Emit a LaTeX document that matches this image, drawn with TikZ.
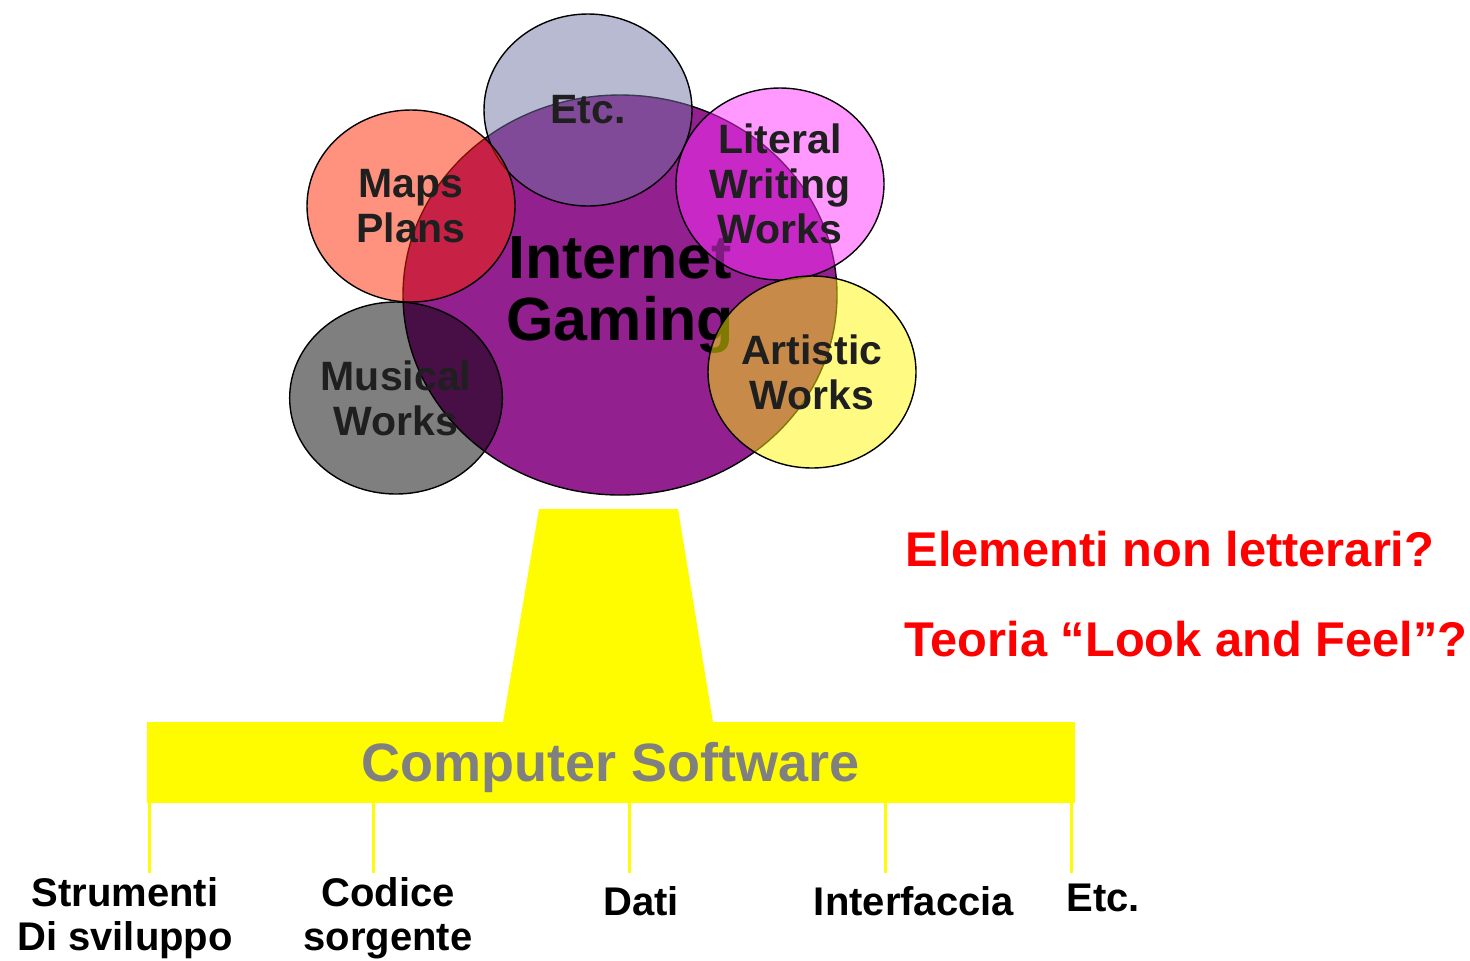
\documentclass[tikz,border=0pt]{standalone}
\usepackage{fontspec}
\setmainfont{Liberation Sans}
\usetikzlibrary{shapes.geometric}
\definecolor{gamepurple}{RGB}{146,32,142}
\definecolor{etcblue}{RGB}{113,117,165}
\definecolor{mapred}{RGB}{253,37,0}
\definecolor{litpink}{RGB}{255,51,255}
\definecolor{artyellow}{RGB}{255,245,5}
\definecolor{boxyellow}{RGB}{255,252,0}
\definecolor{swgray}{RGB}{128,128,128}
\begin{document}
\begin{tikzpicture}[x=0.5pt, y=-0.5pt,
  blob/.style={shape=ellipse, draw=black, line width=0.7pt, minimum width=104pt, minimum height=96pt,
    inner sep=0pt, fill opacity=0.5, text opacity=1, align=center, text=black!88,
    font=\bfseries\fontsize{20.5}{22.5}\selectfont},
  part/.style={align=center, font=\bfseries\fontsize{20}{22}\selectfont},
  leg/.style={draw=boxyellow, line width=1.5pt},
  query/.style={text=red, font=\bfseries\fontsize{24.4}{26}\selectfont}]
\useasboundingbox (0,0) rectangle (1470,960);
% the big circle and what overlaps it
\node[shape=ellipse, draw=black, line width=0.7pt, fill=gamepurple, minimum width=217pt, minimum height=200pt, inner sep=0pt, align=center, font=\bfseries\fontsize{30.5}{31}\selectfont] (game) at (620,295) {Internet\\Gaming};
\node[blob, fill=etcblue] (etc) at (588,110) {Etc.};
\node[blob, fill=mapred] (maps) at (411,206) {Maps\\Plans};
\node[blob, fill=litpink] (lit) at (780,184) {Literal\\Writing\\Works};
\node[blob, fill=black] (mus) at (396,398) {Musical\\Works};
\node[blob, fill=artyellow] (art) at (812,372) {Artistic\\Works};
% software block
\fill[boxyellow] (539,509) -- (678,509) -- (713,722) -- (503,722) -- cycle;
\node[shape=rectangle, fill=boxyellow, minimum width=464pt, minimum height=40.5pt, inner sep=0pt] (box) at (611,762.5) {};
\node[text=swgray, font=\bfseries\fontsize{27}{29}\selectfont] (sw) at (611,768) {Computer Software};
\coordinate (b1) at (149,873);
\coordinate (b2) at (373,873);
\coordinate (b3) at (629,873);
\coordinate (b4) at (885,873);
\coordinate (b5) at (1071,873);
\path[leg] (box.south -| b1) edge (b1);
\path[leg] (box.south -| b2) edge (b2);
\path[leg] (box.south -| b3) edge (b3);
\path[leg] (box.south -| b4) edge (b4);
\path[leg] (box.south -| b5) edge (b5);
\node[part] (tools) at (125,918) {Strumenti\\Di sviluppo};
\node[part] (code) at (388,918) {Codice\\sorgente};
\node[part] (data) at (641,901) {Dati};
\node[part] (ui) at (914,901) {Interfaccia};
\node[part] (more) at (1103,898) {Etc.};
% questions
\node[query] (q1) at (1170,549) {Elementi non letterari?};
\node[query] (q2) at (1186,639) {Teoria “Look and Feel”?};
\end{tikzpicture}
\end{document}
